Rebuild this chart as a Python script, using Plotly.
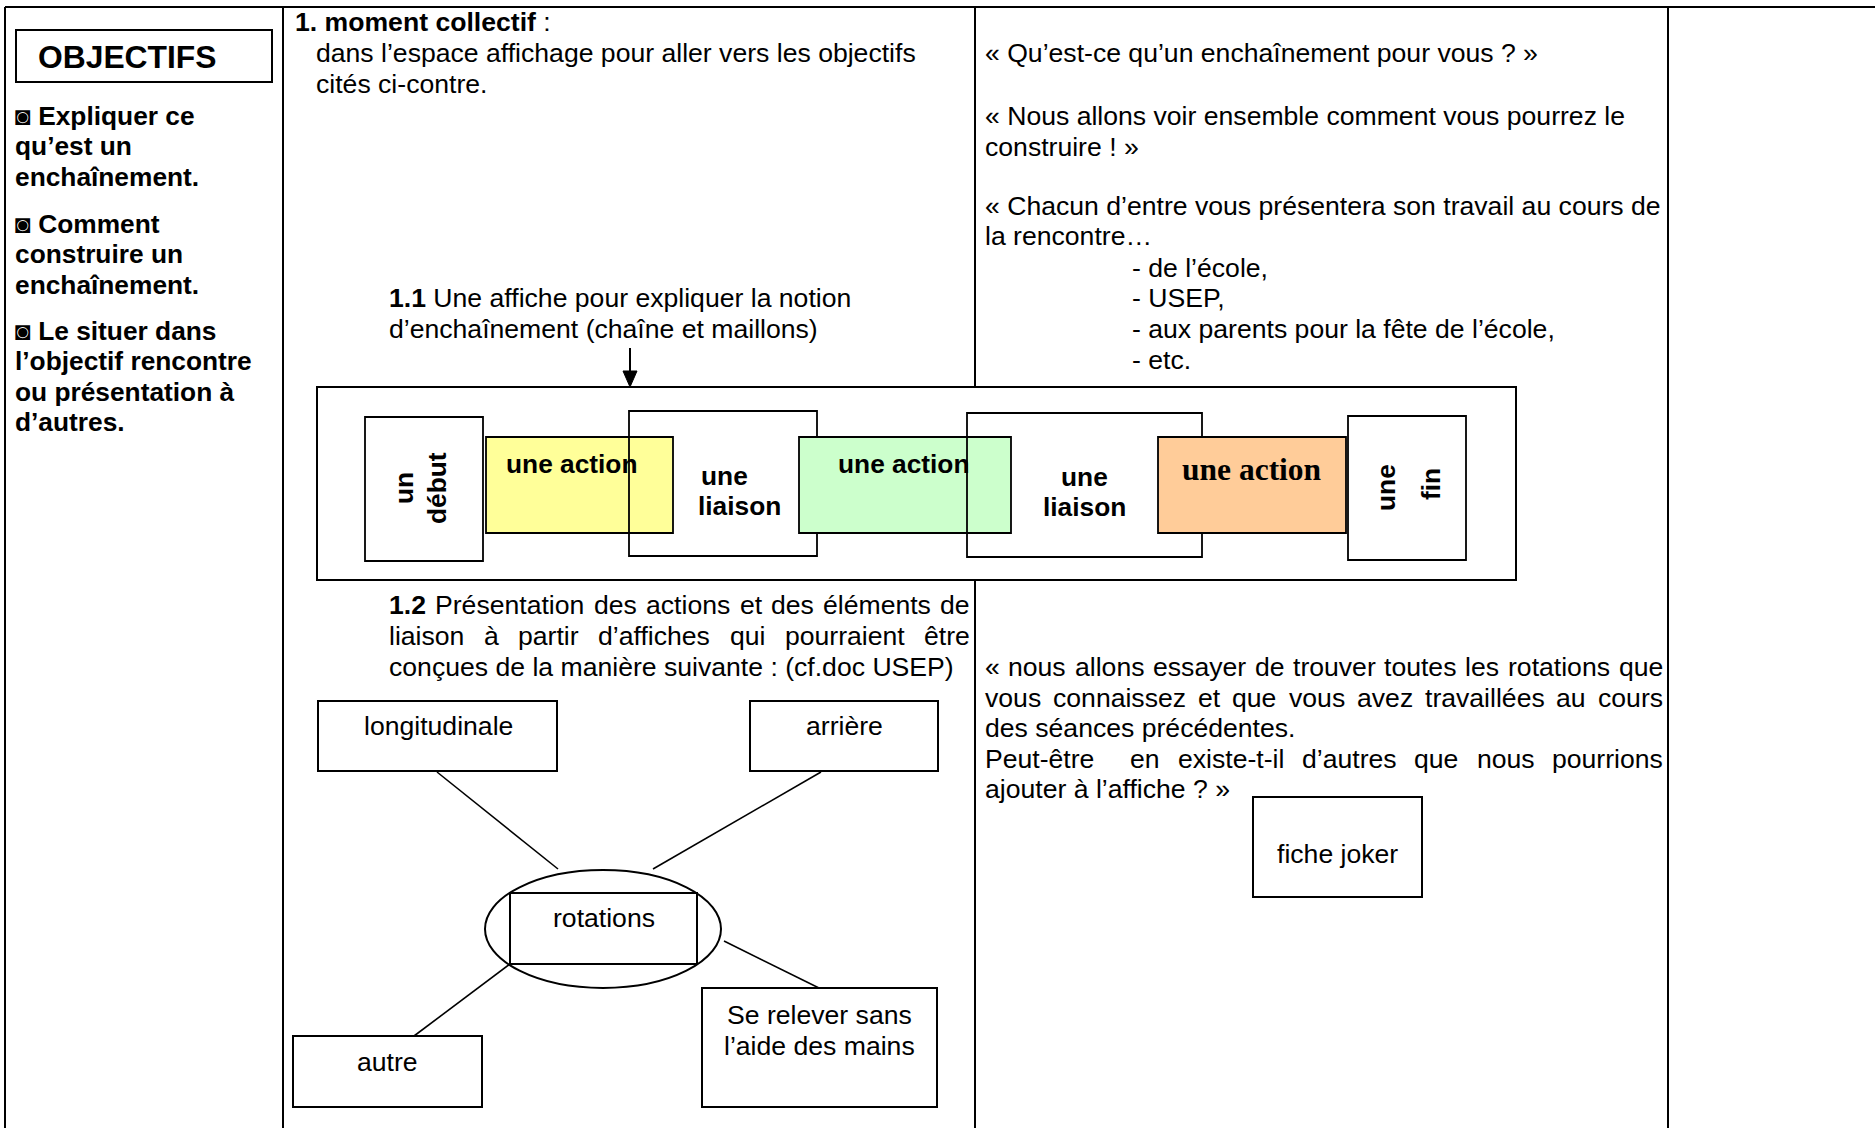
import re
import plotly.graph_objects as go

W, H = 1875, 1128

# ---------------- text content ----------------
objectives_title = "OBJECTIFS"
objectives = [
    ["◙ Expliquer ce", "qu’est un", "enchaînement."],
    ["◙ Comment", "construire un", "enchaînement."],
    ["◙ Le situer dans", "l’objectif rencontre", "ou présentation à", "d’autres."],
]
moment_title = "<b>1. moment collectif</b> :"
moment_lines = ["dans l’espace affichage pour aller vers les objectifs", "cités ci-contre."]
poster_11 = ["<b>1.1</b> Une affiche pour expliquer la notion", "d’enchaînement (chaîne et maillons)"]
chain_labels = [["un", "début"], ["une action"], ["une", "liaison"], ["une action"],
                ["une", "liaison"], ["une action"], ["une", "fin"]]
chain_fills = ["white", "#FFFF99", "rgba(0,0,0,0)", "#CCFFCC", "rgba(0,0,0,0)", "#FFCC99", "white"]
poster_12 = ["<b>1.2</b> Présentation des actions et des éléments de",
             "liaison à partir d’affiches qui pourraient être",
             "conçues de la manière suivante : (cf.doc USEP)"]
hub_label = "rotations"
spoke_labels = [["longitudinale"], ["arrière"], ["Se relever sans", "l’aide des mains"], ["autre"]]
quotes_top = [["« Qu’est-ce qu’un enchaînement pour vous ? »"],
              ["« Nous allons voir ensemble comment vous pourrez le", "construire ! »"],
              ["« Chacun d’entre vous présentera son travail au cours de", "la rencontre…"]]
venues = ["- de l’école,", "- USEP,", "- aux parents pour la fête de l’école,", "- etc."]
quote_bottom = ["« nous allons essayer de trouver toutes les rotations que",
                "vous connaissez et que vous avez travaillées au cours",
                "des séances précédentes.",
                "Peut-être  en existe-t-il d’autres que nous pourrions",
                "ajouter à l’affiche ? »"]
quote_bottom_justify = [True, True, False, True, False]
joker_label = "fiche joker"

# ---------------- styling helpers ----------------
SANS = "Liberation Sans, Arial, sans-serif"
SERIF = "Liberation Serif, Times New Roman, serif"
FS = 26.6          # body font size (px)
FSB = 26.3         # bold labels

CHAR_W = {
    'a': 556, 'b': 556, 'c': 500, 'd': 556, 'e': 556, 'f': 278, 'g': 556, 'h': 556, 'i': 222,
    'j': 222, 'k': 500, 'l': 222, 'm': 833, 'n': 556, 'o': 556, 'p': 556, 'q': 556, 'r': 333,
    's': 500, 't': 278, 'u': 556, 'v': 500, 'w': 722, 'x': 500, 'y': 500, 'z': 500,
    'à': 556, 'â': 556, 'ç': 500, 'é': 556, 'è': 556, 'ê': 556, 'î': 278, 'ô': 556,
    'P': 667, 'S': 667, 'E': 667, 'U': 722, 'Q': 778, 'N': 722, 'C': 722,
    '1': 556, '2': 556, '.': 278, '-': 333, '’': 222, '«': 556, '»': 556, '?': 556,
    ':': 278, '(': 333, ')': 333, ',': 278, '!': 278, ' ': 278,
}


def text_width(s, size):
    s = re.sub(r"<[^>]+>", "", s)
    return sum(CHAR_W.get(ch, 556) for ch in s) / 1000.0 * size


annotations = []


def txt(x, y, text, size=FS, bold=False, anchor="left", family=SANS, angle=0):
    if bold:
        text = "<b>" + text + "</b>"
    annotations.append(dict(
        x=x, y=y, xref="x", yref="y", text=text, showarrow=False,
        xanchor=anchor, yanchor="middle", textangle=angle,
        font=dict(family=family, size=size, color="black"),
        borderpad=0,
    ))


def justified(line, x0, x1, y, size=FS):
    words = line.split(" ")
    n_sp = len(words) - 1
    ink = sum(text_width(w, size) for w in words)
    gap = (x1 - x0 - ink) / n_sp
    x = x0
    for w in words:
        if w:
            txt(x, y, w, size)
        x += text_width(w, size) + gap


shapes = []


def line(x0, y0, x1, y1, w=2):
    shapes.append(dict(type="line", xref="x", yref="y", x0=x0, y0=y0, x1=x1, y1=y1,
                       line=dict(color="black", width=w), layer="above"))


def rect(x0, y0, x1, y1, fill="rgba(0,0,0,0)", w=2):
    shapes.append(dict(type="rect", xref="x", yref="y", x0=x0, y0=y0, x1=x1, y1=y1,
                       line=dict(color="black", width=w), fillcolor=fill, layer="above"))


# ---------------- table frame ----------------
line(5, 7, W, 7)
for cx in (5, 283, 975, 1668):
    line(cx, 7, cx, H)

# ---------------- column 1 : objectives ----------------
rect(16, 30, 272, 82)
txt(37, 57, objectives_title, size=31.8, bold=True)
para_y = [116, 224, 331]
for py, para in zip(para_y, objectives):
    for k, ln in enumerate(para):
        txt(14, py + k * 30.3, ln, size=FSB, bold=True)

# ---------------- column 2 : collective moment ----------------
txt(294, 21.5, moment_title)
for k, ln in enumerate(moment_lines):
    txt(315, 53 + k * 31, ln)
for k, ln in enumerate(poster_11):
    txt(388, 298 + k * 31, ln)

# arrow to the chain poster
line(630, 348, 630, 374, w=2)
shapes.append(dict(type="path", xref="x", yref="y", path="M 623 371 L 637 371 L 630 387 Z",
                   fillcolor="black", line=dict(color="black", width=1), layer="above"))

# chain poster
rect(317, 387, 1516, 580, fill="white")
chain_boxes = [(365, 417, 483, 561), (486, 437, 673, 533), (629, 411, 817, 556),
               (799, 437, 1011, 533), (967, 413, 1202, 557), (1158, 437, 1346, 533),
               (1348, 416, 1466, 560)]
for (x0, y0, x1, y1), fill in zip(chain_boxes, chain_fills):
    rect(x0, y0, x1, y1, fill=fill, w=1.8)

# chain labels
txt(404, 488, chain_labels[0][0], size=FSB, bold=True, anchor="center", angle=-90)
txt(437, 488, chain_labels[0][1], size=FSB, bold=True, anchor="center", angle=-90)
txt(1386, 488, chain_labels[6][0], size=FSB, bold=True, anchor="center", angle=-90)
txt(1431, 484, chain_labels[6][1], size=FSB, bold=True, anchor="center", angle=-90)
txt(572, 464, chain_labels[1][0], size=FSB, bold=True, anchor="center")
txt(904, 464, chain_labels[3][0], size=FSB, bold=True, anchor="center")
txt(1252, 469, chain_labels[5][0], size=31.5, bold=True, anchor="center", family=SERIF)
txt(700, 476, chain_labels[2][0], size=FSB, bold=True)
txt(697, 506, chain_labels[2][1], size=FSB, bold=True)
txt(1084, 477, chain_labels[4][0], size=FSB, bold=True, anchor="center")
txt(1084, 507, chain_labels[4][1], size=FSB, bold=True, anchor="center")

# 1.2 paragraph (justified)
justified(poster_12[0], 388, 969, 605)
justified(poster_12[1], 388, 969, 636)
txt(388, 667, poster_12[2])

# mind map
spoke_boxes = [(318, 701, 557, 771), (750, 701, 938, 771), (702, 988, 937, 1107), (293, 1036, 482, 1107)]
spoke_text_pos = [(438, 726), (844, 726), (819, 1015), (387, 1062)]
spoke_lines = [(437, 772, 558, 869), (821, 772, 653, 869), (724, 941, 819, 988), (510, 964, 414, 1036)]
for (x0, y0, x1, y1) in spoke_boxes:
    rect(x0, y0, x1, y1)
for (x0, y0, x1, y1) in spoke_lines:
    line(x0, y0, x1, y1, w=1.6)
shapes.append(dict(type="circle", xref="x", yref="y", x0=485, y0=870, x1=721, y1=988,
                   line=dict(color="black", width=2), layer="above"))
rect(510, 893, 697, 964)
txt(604, 918, hub_label, anchor="center")
for (tx, ty), lab in zip(spoke_text_pos, spoke_labels):
    for k, ln in enumerate(lab):
        txt(tx, ty + k * 30.5, ln, anchor="center")

# ---------------- column 3 : teacher's words ----------------
q_y = [52.6, 116, 205.7]
for py, para in zip(q_y, quotes_top):
    for k, ln in enumerate(para):
        txt(984, py + k * 30.7, ln)
for k, ln in enumerate(venues):
    txt(1131, 267.5 + k * 30.7, ln)

for k, (ln, just) in enumerate(zip(quote_bottom, quote_bottom_justify)):
    yy = 667 + k * 30.5
    if just:
        justified(ln, 984, 1662, yy)
    else:
        txt(984, yy, ln)

rect(1253, 797, 1422, 897)
txt(1337, 854, joker_label, anchor="center")

# ---------------- figure ----------------
fig = go.Figure(go.Scatter(x=[], y=[], showlegend=False))
fig.update_layout(
    width=W, height=H,
    margin=dict(l=0, r=0, t=0, b=0),
    paper_bgcolor="white", plot_bgcolor="white",
    xaxis=dict(range=[0, W], visible=False, fixedrange=True),
    yaxis=dict(range=[H, 0], visible=False, fixedrange=True),
    shapes=shapes, annotations=annotations,
    showlegend=False,
)
fig.write_html("out.html", config={"displayModeBar": False},
               post_script="document.body.style.margin='0px';document.body.style.overflow='hidden';")
